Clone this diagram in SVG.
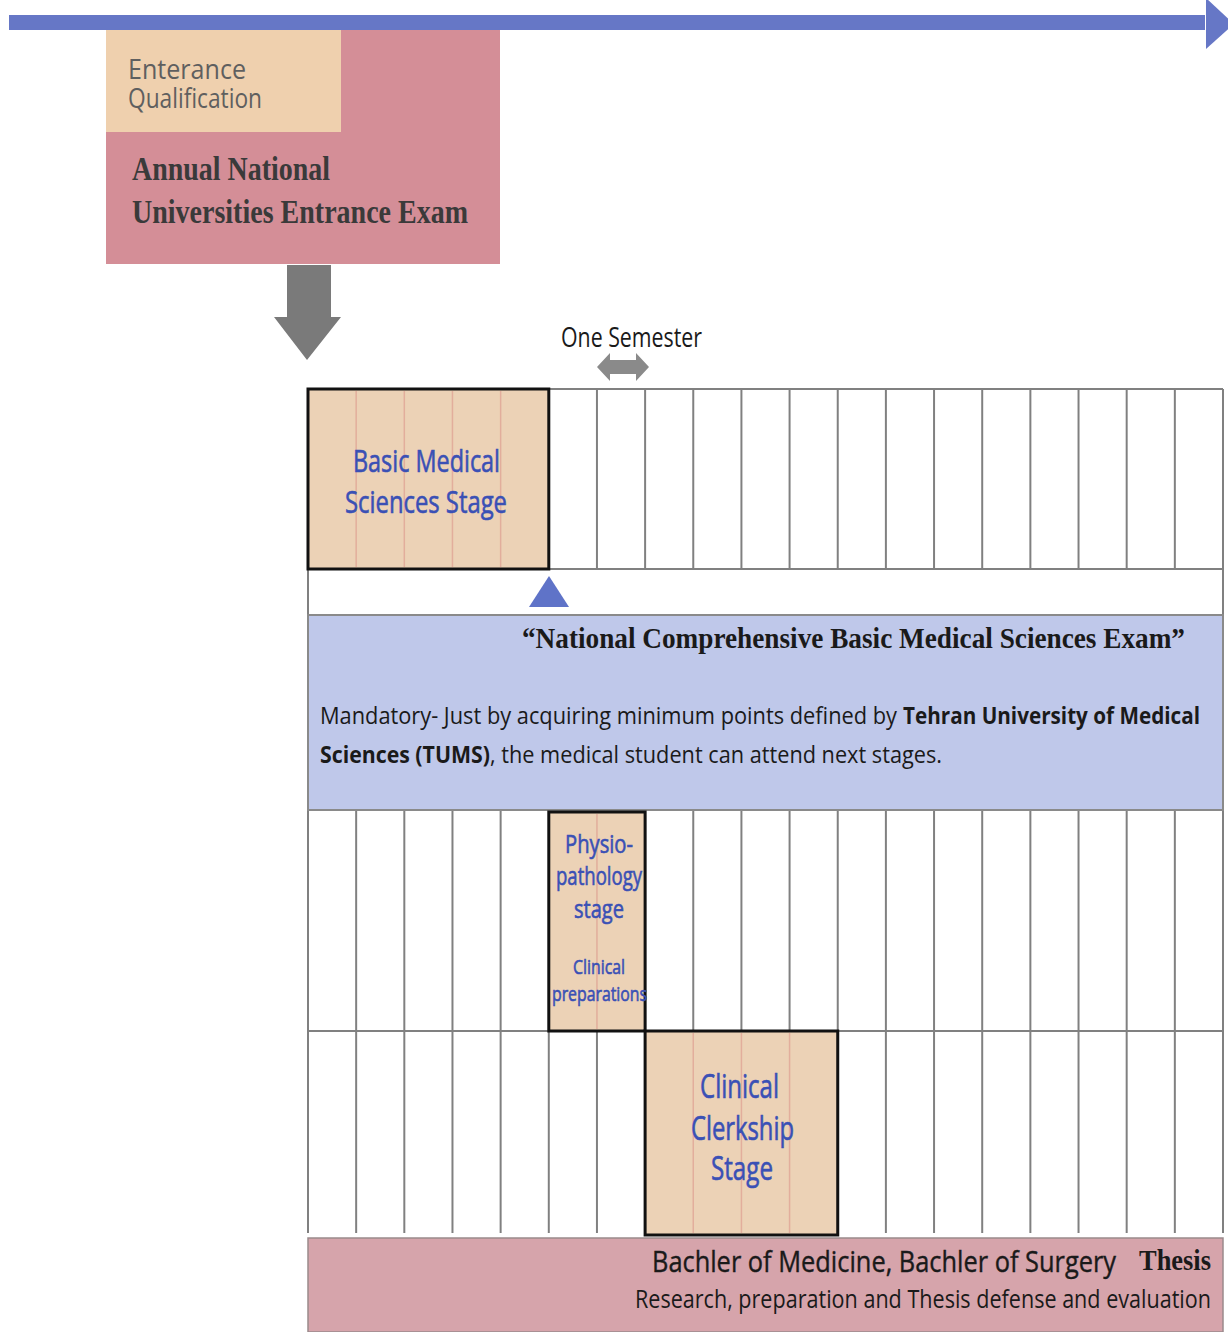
<svg xmlns="http://www.w3.org/2000/svg" width="1228" height="1332" viewBox="0 0 1228 1332">
<style>
.sans{font-family:"Liberation Sans Narrow","Open Sans","Liberation Sans",sans-serif;}
.serif{font-family:"Liberation Serif","DejaVu Serif",serif;font-weight:bold;}
.blue{fill:#3A50B5;stroke:#3A50B5;stroke-width:0.6;}
.dark{fill:#1a1a1a;stroke:#1a1a1a;stroke-width:0.4;}
.grid{stroke:#808080;stroke-width:2;fill:none;}
.faint{stroke:#E2AE9C;stroke-width:1.5;fill:none;}
.stage{fill:#ECD2B6;stroke:#111;stroke-width:3;}
</style>
<rect width="1228" height="1332" fill="#ffffff"/>

<g id="entrance-exam">
<rect x="106" y="30" width="394" height="234" fill="#D48E97"/>
<rect x="106" y="30" width="235" height="102" fill="#EFD0AE"/>
<text class="sans" x="128" y="79" font-size="28" fill="#5f5f5f" textLength="118" lengthAdjust="spacingAndGlyphs">Enterance</text>
<text class="sans" x="128" y="108" font-size="28" fill="#5f5f5f" textLength="134" lengthAdjust="spacingAndGlyphs">Qualification</text>
<text class="serif" x="132" y="180" font-size="33" fill="#3a3a3a" textLength="198" lengthAdjust="spacingAndGlyphs">Annual National</text>
<text class="serif" x="132" y="223" font-size="33" fill="#3a3a3a" textLength="336" lengthAdjust="spacingAndGlyphs">Universities Entrance Exam</text>
</g>

<g id="semester-label">
<text class="sans" x="561" y="347" font-size="27" fill="#1a1a1a" textLength="141" lengthAdjust="spacingAndGlyphs">One Semester</text>
</g>

<g id="grid">
<line class="grid" x1="308" y1="389" x2="1223" y2="389"/>
<line class="grid" x1="308" y1="569" x2="1223" y2="569"/>
<line class="grid" x1="596.95" y1="389" x2="596.95" y2="569"/>
<line class="grid" x1="645.11" y1="389" x2="645.11" y2="569"/>
<line class="grid" x1="693.26" y1="389" x2="693.26" y2="569"/>
<line class="grid" x1="741.42" y1="389" x2="741.42" y2="569"/>
<line class="grid" x1="789.58" y1="389" x2="789.58" y2="569"/>
<line class="grid" x1="837.74" y1="389" x2="837.74" y2="569"/>
<line class="grid" x1="885.89" y1="389" x2="885.89" y2="569"/>
<line class="grid" x1="934.05" y1="389" x2="934.05" y2="569"/>
<line class="grid" x1="982.21" y1="389" x2="982.21" y2="569"/>
<line class="grid" x1="1030.37" y1="389" x2="1030.37" y2="569"/>
<line class="grid" x1="1078.53" y1="389" x2="1078.53" y2="569"/>
<line class="grid" x1="1126.68" y1="389" x2="1126.68" y2="569"/>
<line class="grid" x1="1174.84" y1="389" x2="1174.84" y2="569"/>
<line class="grid" x1="1223" y1="389" x2="1223" y2="615"/>
<line class="grid" x1="308" y1="569" x2="308" y2="615"/>
<line class="grid" x1="308" y1="810" x2="308" y2="1233"/>
<line class="grid" x1="356.16" y1="810" x2="356.16" y2="1233"/>
<line class="grid" x1="404.32" y1="810" x2="404.32" y2="1233"/>
<line class="grid" x1="452.47" y1="810" x2="452.47" y2="1233"/>
<line class="grid" x1="500.63" y1="810" x2="500.63" y2="1233"/>
<line class="grid" x1="548.79" y1="1031" x2="548.79" y2="1233"/>
<line class="grid" x1="596.95" y1="1031" x2="596.95" y2="1233"/>
<line class="grid" x1="645.11" y1="810" x2="645.11" y2="1031"/>
<line class="grid" x1="693.26" y1="810" x2="693.26" y2="1031"/>
<line class="grid" x1="741.42" y1="810" x2="741.42" y2="1031"/>
<line class="grid" x1="789.58" y1="810" x2="789.58" y2="1031"/>
<line class="grid" x1="837.74" y1="810" x2="837.74" y2="1233"/>
<line class="grid" x1="885.89" y1="810" x2="885.89" y2="1233"/>
<line class="grid" x1="934.05" y1="810" x2="934.05" y2="1233"/>
<line class="grid" x1="982.21" y1="810" x2="982.21" y2="1233"/>
<line class="grid" x1="1030.37" y1="810" x2="1030.37" y2="1233"/>
<line class="grid" x1="1078.53" y1="810" x2="1078.53" y2="1233"/>
<line class="grid" x1="1126.68" y1="810" x2="1126.68" y2="1233"/>
<line class="grid" x1="1174.84" y1="810" x2="1174.84" y2="1233"/>
<line class="grid" x1="1223" y1="810" x2="1223" y2="1233"/>
<line class="grid" x1="308" y1="1031" x2="1223" y2="1031"/>
</g>

<g id="basic-medical-sciences">
<rect class="stage" x="308" y="389" width="240.8" height="180"/>
<line class="faint" x1="356.16" y1="391" x2="356.16" y2="567"/>
<line class="faint" x1="404.32" y1="391" x2="404.32" y2="567"/>
<line class="faint" x1="452.47" y1="391" x2="452.47" y2="567"/>
<line class="faint" x1="500.63" y1="391" x2="500.63" y2="567"/>
<text class="sans blue" x="426.5" y="472" font-size="31" text-anchor="middle" textLength="147" lengthAdjust="spacingAndGlyphs">Basic Medical</text>
<text class="sans blue" x="426" y="513" font-size="31" text-anchor="middle" textLength="162" lengthAdjust="spacingAndGlyphs">Sciences Stage</text>
</g>

<g id="national-exam">
<rect x="308" y="615" width="915" height="195" fill="#BFC8EA" stroke="#8a8a8a" stroke-width="2"/>
<text class="serif" x="522" y="648" font-size="29" fill="#1a1a1a" textLength="663" lengthAdjust="spacingAndGlyphs">“National Comprehensive Basic Medical Sciences Exam”</text>
<text class="sans" x="320" y="724" font-size="24" fill="#1a1a1a" textLength="577" lengthAdjust="spacingAndGlyphs">Mandatory- Just by acquiring minimum points defined by</text>
<text class="sans" x="903" y="724" font-size="24" font-weight="bold" fill="#1a1a1a" textLength="297" lengthAdjust="spacingAndGlyphs">Tehran University of Medical</text>
<text class="sans" x="320" y="763" font-size="24" font-weight="bold" fill="#1a1a1a" textLength="170" lengthAdjust="spacingAndGlyphs">Sciences (TUMS)</text>
<text class="sans" x="490" y="763" font-size="24" fill="#1a1a1a" textLength="452" lengthAdjust="spacingAndGlyphs">, the medical student can attend next stages.</text>
</g>

<g id="physiopathology">
<rect class="stage" x="548.79" y="812" width="96.32" height="219"/>
<line class="faint" x1="596.95" y1="814" x2="596.95" y2="1029"/>
<text class="sans blue" x="599" y="853" font-size="25" text-anchor="middle" textLength="68" lengthAdjust="spacingAndGlyphs">Physio-</text>
<text class="sans blue" x="599" y="885" font-size="25" text-anchor="middle" textLength="86" lengthAdjust="spacingAndGlyphs">pathology</text>
<text class="sans blue" x="599" y="918" font-size="25" text-anchor="middle" textLength="50" lengthAdjust="spacingAndGlyphs">stage</text>
<text class="sans blue" x="599" y="974" font-size="20" text-anchor="middle" textLength="52" lengthAdjust="spacingAndGlyphs">Clinical</text>
<text class="sans blue" x="599.5" y="1001" font-size="20" text-anchor="middle" textLength="95" lengthAdjust="spacingAndGlyphs">preparations</text>
</g>

<g id="clinical-clerkship">
<rect class="stage" x="645.11" y="1031" width="192.63" height="204"/>
<line class="faint" x1="693.26" y1="1033" x2="693.26" y2="1233"/>
<line class="faint" x1="741.42" y1="1033" x2="741.42" y2="1233"/>
<line class="faint" x1="789.58" y1="1033" x2="789.58" y2="1233"/>
<text class="sans blue" x="739.5" y="1098" font-size="32" text-anchor="middle" textLength="79" lengthAdjust="spacingAndGlyphs">Clinical</text>
<text class="sans blue" x="742.5" y="1140" font-size="32" text-anchor="middle" textLength="103" lengthAdjust="spacingAndGlyphs">Clerkship</text>
<text class="sans blue" x="742" y="1180" font-size="32" text-anchor="middle" textLength="62" lengthAdjust="spacingAndGlyphs">Stage</text>
</g>

<g id="thesis">
<rect x="308" y="1238" width="915" height="94" fill="#D6A4AB" stroke="#9a8a8c" stroke-width="1.5"/>
<text class="sans dark" x="652" y="1272" font-size="29" textLength="464" lengthAdjust="spacingAndGlyphs">Bachler of Medicine, Bachler of Surgery</text>
<text class="serif" x="1139" y="1270" font-size="29" fill="#1a1a1a" textLength="72" lengthAdjust="spacingAndGlyphs">Thesis</text>
<text class="sans" x="635" y="1308" font-size="25" fill="#1a1a1a" textLength="576" lengthAdjust="spacingAndGlyphs">Research, preparation and Thesis defense and evaluation</text>
</g>

<g id="connectors">
<rect x="9" y="15" width="1196" height="15" fill="#6677C6"/>
<polygon points="1206,-2 1206,49 1234,24" fill="#6677C6"/>
<polygon points="287,265 331,265 331,317 341,317 307,360 274,317 287,317" fill="#7a7a7a"/>
<polygon points="597,367 610,353 610,360 636,360 636,353 649,367 636,381 636,374 610,374 610,381" fill="#8a8a8a"/>
<polygon points="529,607 569,607 549,576" fill="#5F73C8"/>
</g>
</svg>
